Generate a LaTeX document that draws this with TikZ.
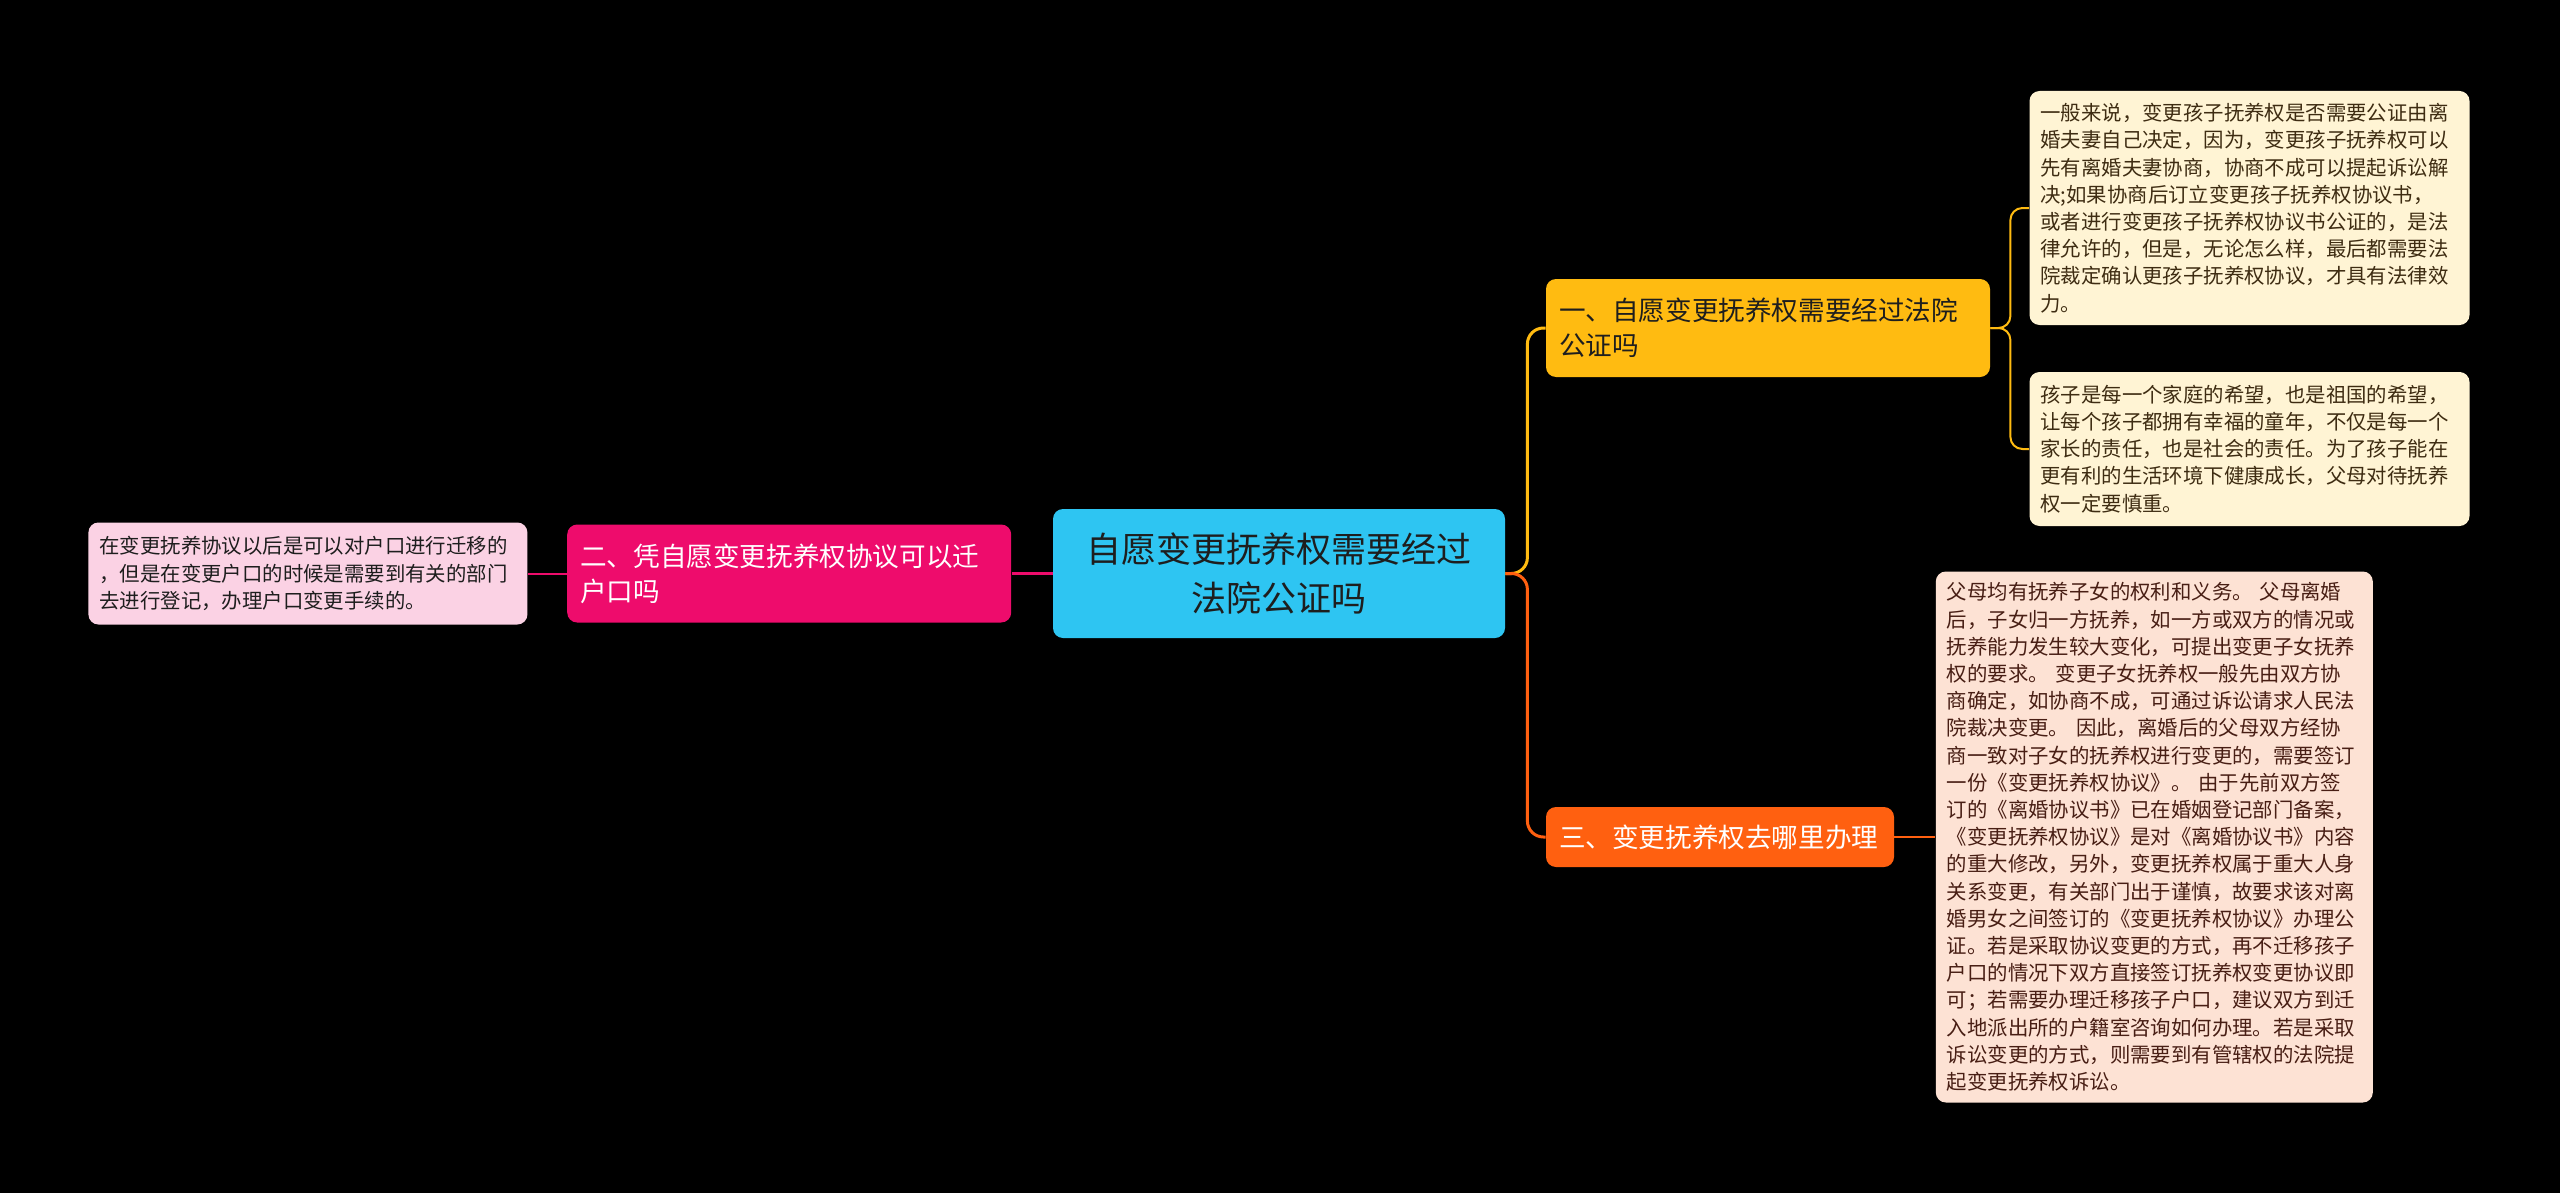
\documentclass[tikz,border=0pt]{standalone}
\usepackage{fontspec}
\setmainfont{Noto Sans CJK SC}
\usetikzlibrary{positioning}
\definecolor{rootcyan}{RGB}{46,197,242}
\definecolor{amber}{RGB}{255,187,17}
\definecolor{rosered}{RGB}{238,12,108}
\definecolor{tangerine}{RGB}{255,96,16}
\definecolor{cream}{RGB}{255,244,212}
\definecolor{peach}{RGB}{253,226,212}
\definecolor{blush}{RGB}{251,210,228}
\definecolor{inkdark}{RGB}{30,30,30}
\definecolor{inkbrown}{RGB}{62,44,18}
\definecolor{inkred}{RGB}{72,30,20}

\begin{document}
\begin{tikzpicture}[
  x=0.5pt,y=-0.5pt,
  topic/.style={
    fill=rootcyan,
    rounded corners=5pt,
    minimum width=226pt,
    minimum height=64.5pt,
    inner sep=0pt,
    align=center,
    text=inkdark,
    font=\fontsize{17.5pt}{24.5pt}\selectfont
  },
  branch/.style={
    rounded corners=5pt,
    minimum height=49pt,
    inner xsep=6.5pt,
    inner ysep=0pt,
    align=left,
    font=\fontsize{13.3pt}{17.5pt}\selectfont
  },
  leaf/.style={
    rounded corners=5pt,
    inner xsep=5.5pt,
    inner ysep=0pt,
    align=left,
    font=\fontsize{10.2pt}{13.6pt}\selectfont
  },
  link/.style={line width=1.5pt,rounded corners=8pt},
  twig/.style={line width=1pt,rounded corners=6pt}
]
\useasboundingbox (0,0) rectangle (2560,1193);
\fill[black] (0,0) rectangle (2560,1193);

% centre topic and the left side
\node[topic] (root) at (1279,573.5) {自愿变更抚养权需要经过\\法院公证吗};
\node[branch,fill=rosered,text=white,text width=209pt,left=20.5pt of root] (q2)
  {二、凭自愿变更抚养权协议可以迁\\户口吗};
\node[leaf,fill=blush,text=inkdark,text width=208.5pt,minimum height=51pt,left=19.5pt of q2] (q2a)
  {在变更抚养协议以后是可以对户口进行迁移的\\，但是在变更户口的时候是需要到有关的部门\\去进行登记，办理户口变更手续的。};

% right side
\node[branch,fill=amber,text=inkdark,text width=209pt] (q1) at (1768,328)
  {一、自愿变更抚养权需要经过法院\\公证吗};
\node[branch,fill=tangerine,text=white,text width=161pt,minimum height=30pt] (q3) at (1720,837)
  {三、变更抚养权去哪里办理};
\node[leaf,fill=cream,text=inkbrown,text width=209pt,minimum height=117pt] (q1a) at (2249.5,208)
  {一般来说，变更孩子抚养权是否需要公证由离\\婚夫妻自己决定，因为，变更孩子抚养权可以\\先有离婚夫妻协商，协商不成可以提起诉讼解\\决;如果协商后订立变更孩子抚养权协议书，\\或者进行变更孩子抚养权协议书公证的，是法\\律允许的，但是，无论怎么样，最后都需要法\\院裁定确认更孩子抚养权协议，才具有法律效\\力。};
\node[leaf,fill=cream,text=inkbrown,text width=209pt,minimum height=77pt] (q1b) at (2249.5,449)
  {孩子是每一个家庭的希望，也是祖国的希望，\\让每个孩子都拥有幸福的童年，不仅是每一个\\家长的责任，也是社会的责任。为了孩子能在\\更有利的生活环境下健康成长，父母对待抚养\\权一定要慎重。};
\node[leaf,fill=peach,text=inkred,text width=207.5pt,minimum height=265.5pt,right=20.5pt of q3] (q3a)
  {父母均有抚养子女的权利和义务。 父母离婚\\后，子女归一方抚养，如一方或双方的情况或\\抚养能力发生较大变化，可提出变更子女抚养\\权的要求。 变更子女抚养权一般先由双方协\\商确定，如协商不成，可通过诉讼请求人民法\\院裁决变更。 因此，离婚后的父母双方经协\\商一致对子女的抚养权进行变更的，需要签订\\一份《变更抚养权协议》。 由于先前双方签\\订的《离婚协议书》已在婚姻登记部门备案，\\《变更抚养权协议》是对《离婚协议书》内容\\的重大修改，另外，变更抚养权属于重大人身\\关系变更，有关部门出于谨慎，故要求该对离\\婚男女之间签订的《变更抚养权协议》办理公\\证。若是采取协议变更的方式，再不迁移孩子\\户口的情况下双方直接签订抚养权变更协议即\\可；若需要办理迁移孩子户口，建议双方到迁\\入地派出所的户籍室咨询如何办理。若是采取\\诉讼变更的方式，则需要到有管辖权的法院提\\起变更抚养权诉讼。};

% connectors
\draw[link,rosered] (root.west) -- (q2.east);
\draw[twig,rosered] (q2.west) -- (q2a.east);
\draw[link,amber] (root.east) -- ++(22,0) |- (q1.west);
\draw[link,tangerine] (root.east) -- ++(22,0) |- (q3.west);
\draw[twig,amber] (q1.east) -- ++(20,0) |- (q1a.west);
\draw[twig,amber] (q1.east) -- ++(20,0) |- (q1b.west);
\draw[twig,tangerine] (q3.east) -- (q3a.west);
\end{tikzpicture}
\end{document}
